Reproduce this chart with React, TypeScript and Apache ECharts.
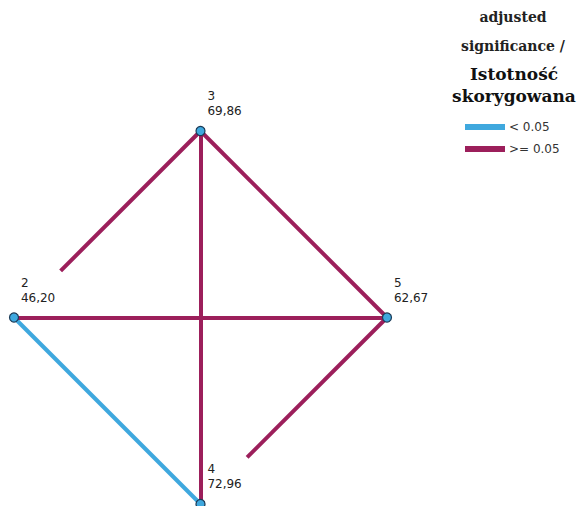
import React, { useEffect, useRef } from "react";
import * as echarts from "echarts";

// Groups (nodes) in drawing order around the diamond: left, top, right, bottom
const nodeNames = ["2", "3", "5", "4"];
const meanRanks = [46.2, 69.86, 62.67, 72.96];

// Pairwise comparisons: [from, to, significant (< 0.05)]
const edgeFrom = ["2", "3", "3", "2", "4", "2"];
const edgeTo = ["3", "5", "4", "5", "5", "4"];
const edgeSignificant = [false, false, false, false, false, true];

const legendTitleLines = ["adjusted", "significance /"];
const legendTitleBig = ["Istotność", "skorygowana"];
const legendNames = ["< 0.05", ">= 0.05"];

const BLUE = "#3FA8DE";
const MAGENTA = "#9C1F5B";

export default function App() {
  const ref = useRef<HTMLDivElement>(null);
  useEffect(() => {
    if (!ref.current) return;
    const chart = echarts.init(ref.current, undefined, { renderer: "svg" });

    const pos: Record<string, [number, number]> = {};
    nodeNames.forEach((n, i) => {
      const a = Math.PI - (i * Math.PI) / 2;
      pos[n] = [Math.round(Math.cos(a) * 1e6) / 1e6, Math.round(Math.sin(a) * 1e6) / 1e6];
    });

    // Edges whose start is hidden behind the label of the lower/left node
    const hiddenStart: Record<string, number> = { "2-3": 0.25, "4-5": 0.25 };

    const mkEdge = (i: number) => {
      const a = pos[edgeFrom[i]];
      const b = pos[edgeTo[i]];
      const f = hiddenStart[edgeFrom[i] + "-" + edgeTo[i]] || 0;
      const s = [a[0] + (b[0] - a[0]) * f, a[1] + (b[1] - a[1]) * f];
      return { coords: [s, b] };
    };
    const sigEdges: any[] = [];
    const nonSigEdges: any[] = [];
    edgeFrom.forEach((_, i) => {
      (edgeSignificant[i] ? sigEdges : nonSigEdges).push(mkEdge(i));
    });

    const option: any = {
      animation: false,
      color: [BLUE, MAGENTA],
      grid: { left: 14, top: 131, width: 373, height: 373, containLabel: false },
      xAxis: { type: "value", min: -1, max: 1, show: false },
      yAxis: { type: "value", min: -1, max: 1, show: false },
      legend: {
        orient: "vertical",
        left: 465,
        top: 120,
        padding: 0,
        itemWidth: 38,
        itemHeight: 4,
        itemGap: 8,
        icon: "rect",
        data: legendNames,
        textStyle: { fontFamily: "DejaVu Sans", fontSize: 12, color: "#333", lineHeight: 14 },
      },
      graphic: [
        ...legendTitleLines.map((t, i) => ({
          type: "text",
          x: 513,
          y: 17 + i * 29,
          style: {
            text: t,
            align: "center",
            verticalAlign: "middle",
            fontFamily: "DejaVu Serif",
            fontWeight: "bold",
            fontSize: 14,
            fill: "#222",
          },
        })),
        ...legendTitleBig.map((t, i) => ({
          type: "text",
          x: 514,
          y: 74 + i * 22,
          style: {
            text: t,
            align: "center",
            verticalAlign: "middle",
            fontFamily: "DejaVu Serif",
            fontWeight: "bold",
            fontSize: 17,
            fill: "#111",
          },
        })),
      ],
      series: [
        {
          name: legendNames[0],
          type: "lines",
          coordinateSystem: "cartesian2d",
          clip: false,
          silent: true,
          itemStyle: { color: BLUE },
          lineStyle: { color: BLUE, width: 4, opacity: 1, curveness: 0 },
          data: sigEdges,
        },
        {
          name: legendNames[1],
          type: "lines",
          coordinateSystem: "cartesian2d",
          clip: false,
          silent: true,
          itemStyle: { color: MAGENTA },
          lineStyle: { color: MAGENTA, width: 4, opacity: 1, curveness: 0 },
          data: nonSigEdges,
        },
        {
          type: "scatter",
          clip: false,
          silent: true,
          symbolSize: 9,
          z: 5,
          itemStyle: { color: BLUE, borderColor: "#1d3b57", borderWidth: 1.2, opacity: 1 },
          label: {
            show: true,
            position: [12, -37],
            align: "left",
            verticalAlign: "top",
            fontFamily: "DejaVu Sans",
            fontSize: 12,
            lineHeight: 15,
            color: "#222",
            formatter: (p: any) => p.name + "\n" + p.data.rank,
          },
          data: nodeNames.map((n, i) => ({
            name: n,
            value: pos[n],
            rank: meanRanks[i].toFixed(2).replace(".", ","),
          })),
        },
      ],
    };
    chart.setOption(option);
    return () => chart.dispose();
  }, []);
  return (
    <div
      ref={ref}
      style={{ position: "fixed", left: 0, top: 0, width: 580, height: 506, background: "#fff" }}
    />
  );
}
